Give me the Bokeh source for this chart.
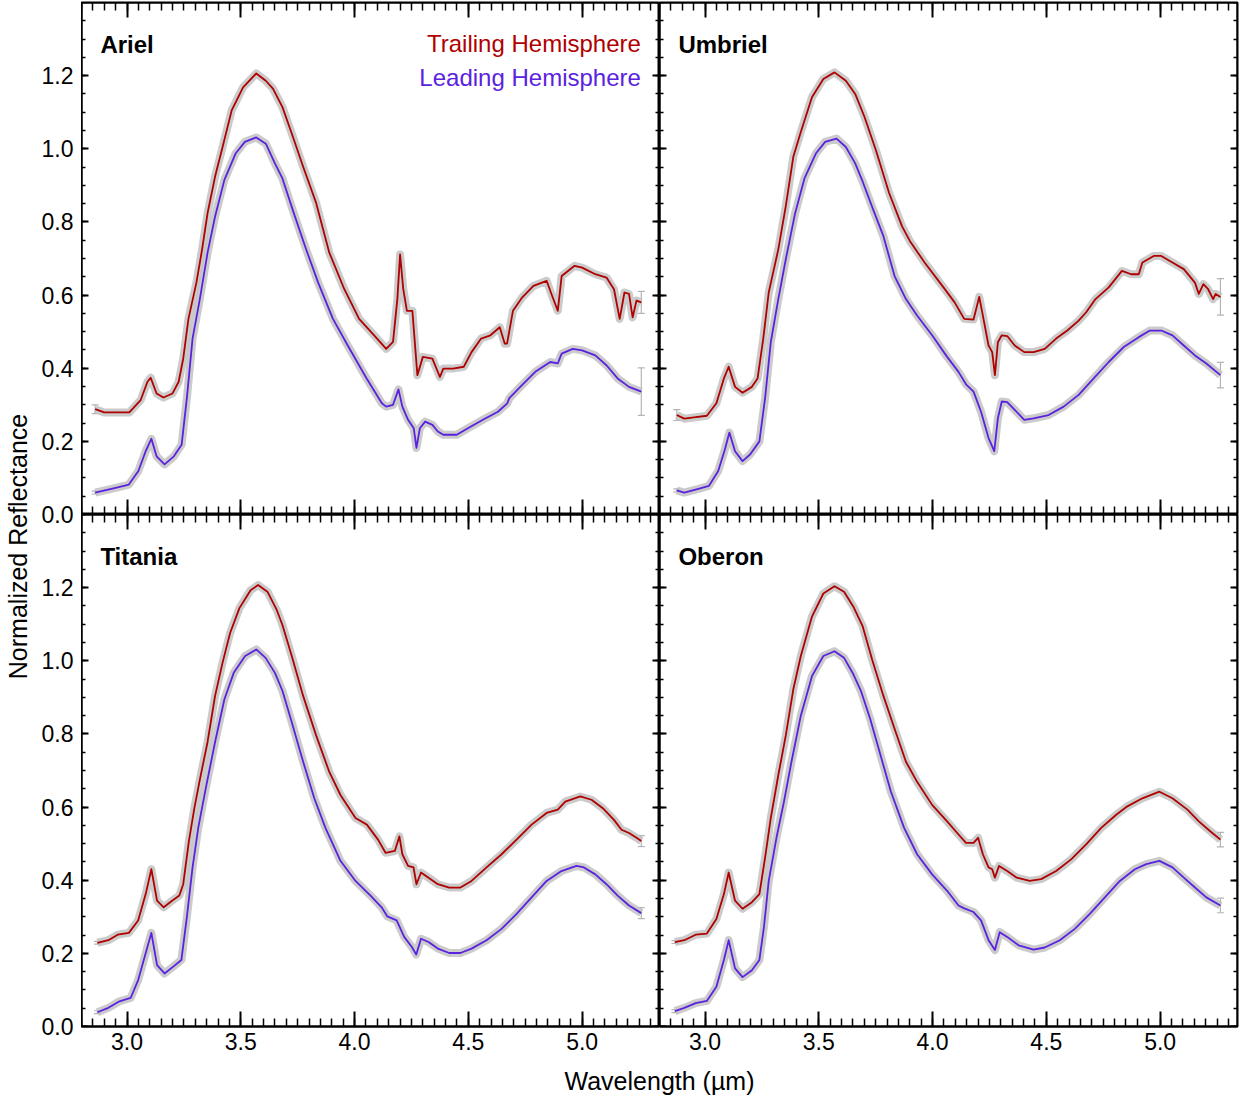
from bokeh.plotting import figure
from bokeh.layouts import row, column
from bokeh.models import (Range1d, LinearAxis, FixedTicker, CustomJSTickFormatter,
                          PrintfTickFormatter, Label, Whisker, ColumnDataSource, TeeHead)
from bokeh.embed import file_html
from bokeh.resources import INLINE

# ---------------- data ----------------
moons = ["Ariel", "Umbriel", "Titania", "Oberon"]
series_names = ["Trailing Hemisphere", "Leading Hemisphere"]
x_ticks = [3.0, 3.5, 4.0, 4.5, 5.0]
y_ticks = [0.0, 0.2, 0.4, 0.6, 0.8, 1.0, 1.2]

ariel_trail_wl = [2.86, 2.90, 2.95, 3.01, 3.06, 3.09, 3.104, 3.13, 3.16, 3.20, 3.227, 3.247, 3.27, 3.305, 3.33,
                  3.354, 3.387, 3.42, 3.46, 3.51, 3.568, 3.61, 3.642, 3.683, 3.724, 3.774, 3.831, 3.889, 3.955, 4.02,
                  4.086, 4.139, 4.169, 4.188, 4.20, 4.214, 4.23, 4.254, 4.267, 4.276, 4.30, 4.342, 4.375, 4.39, 4.432,
                  4.48, 4.514, 4.556, 4.597, 4.638, 4.66, 4.67, 4.696, 4.737, 4.786, 4.844, 4.868, 4.893, 4.91, 4.967,
                  5.0, 5.058, 5.107, 5.14, 5.165, 5.186, 5.206, 5.222, 5.239, 5.26]
ariel_trail_r = [0.288, 0.279, 0.279, 0.279, 0.313, 0.363, 0.374, 0.331, 0.320, 0.331, 0.363, 0.426, 0.535, 0.634, 0.725,
                 0.824, 0.924, 1.005, 1.105, 1.168, 1.206, 1.186, 1.164, 1.114, 1.042, 0.951, 0.852, 0.716, 0.616, 0.535,
                 0.490, 0.453, 0.472, 0.589, 0.711, 0.616, 0.557, 0.557, 0.453, 0.381, 0.431, 0.426, 0.376, 0.399, 0.399,
                 0.404, 0.444, 0.481, 0.490, 0.512, 0.467, 0.467, 0.557, 0.594, 0.625, 0.639, 0.598, 0.557, 0.652, 0.680,
                 0.675, 0.657, 0.648, 0.616, 0.535, 0.607, 0.603, 0.539, 0.585, 0.580]
ariel_lead_wl = [2.86, 2.95, 3.008, 3.05, 3.082, 3.107, 3.13, 3.165, 3.206, 3.24, 3.263, 3.288, 3.32, 3.354, 3.387,
                 3.428, 3.477, 3.518, 3.568, 3.61, 3.65, 3.683, 3.733, 3.782, 3.84, 3.905, 3.97, 4.053, 4.12, 4.139,
                 4.169, 4.193, 4.21, 4.235, 4.26, 4.272, 4.287, 4.31, 4.342, 4.366, 4.39, 4.449, 4.498, 4.564, 4.63,
                 4.671, 4.68, 4.728, 4.794, 4.86, 4.893, 4.91, 4.959, 5.0, 5.058, 5.107, 5.156, 5.206, 5.26]
ariel_lead_r = [0.060, 0.073, 0.082, 0.119, 0.173, 0.207, 0.159, 0.137, 0.159, 0.191, 0.318, 0.481, 0.589, 0.716, 0.815,
                0.915, 0.987, 1.019, 1.031, 1.014, 0.960, 0.919, 0.824, 0.734, 0.634, 0.535, 0.462, 0.372, 0.304, 0.295,
                0.300, 0.342, 0.295, 0.259, 0.236, 0.182, 0.236, 0.254, 0.245, 0.227, 0.218, 0.218, 0.236, 0.259, 0.281,
                0.304, 0.318, 0.349, 0.390, 0.417, 0.413, 0.440, 0.453, 0.449, 0.435, 0.408, 0.372, 0.349, 0.336]

umbriel_trail_wl = [2.876, 2.909, 2.96, 3.008, 3.05, 3.083, 3.104, 3.132, 3.165, 3.206, 3.231, 3.256, 3.28, 3.322, 3.355,
                    3.388, 3.421, 3.47, 3.52, 3.569, 3.619, 3.66, 3.701, 3.751, 3.809, 3.866, 3.9, 3.965, 4.048, 4.097,
                    4.139, 4.18, 4.205, 4.221, 4.246, 4.262, 4.274, 4.287, 4.304, 4.328, 4.361, 4.403, 4.444, 4.493, 4.543,
                    4.592, 4.642, 4.675, 4.716, 4.774, 4.832, 4.873, 4.906, 4.922, 4.972, 5.005, 5.054, 5.104, 5.153, 5.17,
                    5.19, 5.211, 5.233, 5.244, 5.265]
umbriel_trail_r = [0.272, 0.262, 0.266, 0.270, 0.304, 0.372, 0.404, 0.349, 0.333, 0.349, 0.372, 0.481, 0.607, 0.725, 0.843,
                   0.978, 1.046, 1.141, 1.191, 1.209, 1.186, 1.150, 1.087, 0.996, 0.879, 0.788, 0.748, 0.689, 0.621, 0.580,
                   0.535, 0.533, 0.595, 0.544, 0.462, 0.444, 0.381, 0.471, 0.490, 0.488, 0.462, 0.444, 0.444, 0.453, 0.481,
                   0.503, 0.530, 0.553, 0.589, 0.621, 0.666, 0.657, 0.657, 0.689, 0.707, 0.707, 0.689, 0.671, 0.634, 0.603,
                   0.630, 0.616, 0.589, 0.603, 0.595]
umbriel_lead_wl = [2.876, 2.909, 2.975, 3.017, 3.058, 3.087, 3.107, 3.132, 3.165, 3.198, 3.239, 3.264, 3.289, 3.322, 3.355,
                   3.396, 3.437, 3.487, 3.528, 3.578, 3.619, 3.66, 3.693, 3.734, 3.784, 3.833, 3.883, 3.932, 3.998, 4.064,
                   4.114, 4.147, 4.18, 4.213, 4.246, 4.271, 4.287, 4.304, 4.328, 4.361, 4.403, 4.444, 4.51, 4.576, 4.642,
                   4.708, 4.774, 4.84, 4.906, 4.955, 5.005, 5.054, 5.104, 5.153, 5.203, 5.265]
umbriel_lead_r = [0.066, 0.060, 0.071, 0.078, 0.119, 0.177, 0.224, 0.173, 0.146, 0.164, 0.200, 0.318, 0.471, 0.589, 0.698,
                  0.824, 0.919, 0.987, 1.019, 1.028, 1.005, 0.960, 0.910, 0.842, 0.761, 0.652, 0.589, 0.544, 0.490, 0.431,
                  0.390, 0.356, 0.336, 0.281, 0.209, 0.173, 0.263, 0.309, 0.307, 0.286, 0.259, 0.263, 0.272, 0.295, 0.327,
                  0.372, 0.417, 0.458, 0.485, 0.503, 0.503, 0.490, 0.462, 0.435, 0.413, 0.381]

titania_trail_wl = [2.87, 2.918, 2.959, 3.008, 3.049, 3.082, 3.107, 3.132, 3.161, 3.198, 3.23, 3.247, 3.272, 3.296, 3.321,
                    3.354, 3.387, 3.42, 3.453, 3.494, 3.543, 3.576, 3.617, 3.658, 3.683, 3.724, 3.774, 3.831, 3.889, 3.938,
                    4.004, 4.054, 4.103, 4.136, 4.177, 4.197, 4.21, 4.235, 4.259, 4.272, 4.292, 4.325, 4.366, 4.416, 4.465,
                    4.514, 4.58, 4.646, 4.712, 4.778, 4.844, 4.893, 4.926, 4.992, 5.041, 5.091, 5.14, 5.173, 5.206, 5.239,
                    5.26]
titania_trail_r = [0.229, 0.236, 0.251, 0.256, 0.290, 0.362, 0.430, 0.344, 0.326, 0.344, 0.358, 0.389, 0.507, 0.597, 0.678,
                   0.778, 0.904, 0.995, 1.076, 1.144, 1.193, 1.207, 1.189, 1.139, 1.098, 1.013, 0.904, 0.796, 0.696, 0.633,
                   0.570, 0.552, 0.511, 0.475, 0.480, 0.520, 0.471, 0.439, 0.435, 0.389, 0.421, 0.407, 0.389, 0.380, 0.380,
                   0.398, 0.435, 0.471, 0.511, 0.552, 0.584, 0.593, 0.615, 0.629, 0.620, 0.597, 0.565, 0.538, 0.529, 0.516,
                   0.507]
titania_lead_wl = [2.87, 2.918, 2.967, 3.016, 3.049, 3.082, 3.107, 3.132, 3.165, 3.206, 3.239, 3.263, 3.288, 3.313, 3.346,
                   3.387, 3.428, 3.469, 3.519, 3.568, 3.609, 3.65, 3.683, 3.724, 3.774, 3.823, 3.872, 3.938, 4.004, 4.07,
                   4.119, 4.144, 4.185, 4.218, 4.251, 4.271, 4.292, 4.325, 4.366, 4.416, 4.465, 4.514, 4.58, 4.646, 4.712,
                   4.778, 4.844, 4.909, 4.975, 5.008, 5.058, 5.107, 5.156, 5.206, 5.26]
titania_lead_r = [0.039, 0.051, 0.069, 0.078, 0.127, 0.200, 0.256, 0.168, 0.145, 0.165, 0.182, 0.299, 0.435, 0.543, 0.651,
                  0.778, 0.895, 0.967, 1.013, 1.031, 1.008, 0.967, 0.918, 0.832, 0.724, 0.624, 0.543, 0.453, 0.398, 0.358,
                  0.326, 0.301, 0.290, 0.245, 0.218, 0.197, 0.240, 0.231, 0.213, 0.201, 0.201, 0.213, 0.236, 0.267, 0.308,
                  0.353, 0.398, 0.425, 0.439, 0.435, 0.416, 0.389, 0.358, 0.331, 0.310]

oberon_trail_wl = [2.868, 2.909, 2.959, 3.008, 3.05, 3.083, 3.104, 3.132, 3.165, 3.206, 3.239, 3.264, 3.289, 3.322, 3.355,
                   3.388, 3.421, 3.47, 3.52, 3.569, 3.611, 3.652, 3.693, 3.734, 3.784, 3.833, 3.883, 3.932, 3.998, 4.064,
                   4.114, 4.147, 4.18, 4.2, 4.221, 4.246, 4.262, 4.274, 4.292, 4.328, 4.37, 4.427, 4.477, 4.543, 4.609,
                   4.675, 4.741, 4.807, 4.856, 4.922, 4.997, 5.054, 5.12, 5.17, 5.22, 5.265]
oberon_trail_r = [0.231, 0.236, 0.251, 0.254, 0.294, 0.362, 0.421, 0.344, 0.322, 0.340, 0.362, 0.462, 0.570, 0.687, 0.796,
                  0.922, 1.013, 1.121, 1.184, 1.204, 1.189, 1.148, 1.094, 1.004, 0.904, 0.814, 0.724, 0.669, 0.606, 0.561,
                  0.525, 0.502, 0.502, 0.516, 0.471, 0.435, 0.430, 0.407, 0.439, 0.425, 0.407, 0.398, 0.403, 0.425, 0.457,
                  0.498, 0.543, 0.579, 0.602, 0.624, 0.642, 0.624, 0.593, 0.561, 0.534, 0.511]
oberon_lead_wl = [2.868, 2.909, 2.959, 3.008, 3.05, 3.083, 3.104, 3.132, 3.165, 3.206, 3.239, 3.259, 3.28, 3.314, 3.347,
                  3.38, 3.421, 3.47, 3.52, 3.569, 3.611, 3.652, 3.685, 3.726, 3.767, 3.817, 3.875, 3.932, 3.998, 4.064,
                  4.114, 4.139, 4.18, 4.213, 4.246, 4.274, 4.295, 4.328, 4.378, 4.444, 4.493, 4.559, 4.625, 4.691, 4.757,
                  4.823, 4.889, 4.939, 4.997, 5.054, 5.104, 5.153, 5.203, 5.265]
oberon_lead_r = [0.042, 0.051, 0.064, 0.070, 0.109, 0.182, 0.236, 0.159, 0.135, 0.154, 0.182, 0.272, 0.398, 0.516, 0.615,
                 0.724, 0.850, 0.958, 1.013, 1.026, 1.008, 0.963, 0.918, 0.841, 0.751, 0.642, 0.543, 0.471, 0.416, 0.371,
                 0.331, 0.323, 0.313, 0.290, 0.236, 0.209, 0.258, 0.245, 0.222, 0.210, 0.216, 0.236, 0.267, 0.308, 0.353,
                 0.398, 0.430, 0.444, 0.453, 0.435, 0.407, 0.380, 0.353, 0.331]

# error bars at the first and last point of each spectrum
ariel_trail_err = [0.012, 0.030]
ariel_lead_err = [0.004, 0.065]
umbriel_trail_err = [0.015, 0.050]
umbriel_lead_err = [0.004, 0.035]
titania_trail_err = [0.004, 0.015]
titania_lead_err = [0.004, 0.015]
oberon_trail_err = [0.004, 0.020]
oberon_lead_err = [0.004, 0.020]

# ---------------- styling ----------------
FONT = "Liberation Sans"
RED = "#B00000"
PURPLE = "#5A22E0"
HALO = "#C2C2C2"
ERRC = "#B4B4B4"

X0, X1 = 2.8, 5.34
Y0, Y1 = 0.0, 1.4
PW, PH = 578, 512

x_minor = [round(X0 + 0.05 * i, 2) for i in range(52)]
y_minor = [round(0.05 * i, 2) for i in range(29)]


def style_axis(ax, major_in, minor_in):
    ax.axis_line_color = "black"
    ax.axis_line_width = 2
    ax.major_tick_in = major_in
    ax.major_tick_out = 0
    ax.minor_tick_in = minor_in
    ax.minor_tick_out = 0
    ax.major_tick_line_color = "black"
    ax.major_tick_line_width = 2
    ax.minor_tick_line_color = "black"
    ax.minor_tick_line_width = 1.5


def panel(name, tw, tr, te, lw, lr, le, top, right, bottom, xlabels, legend):
    p = figure(frame_width=PW, frame_height=PH, x_range=Range1d(X0, X1), y_range=Range1d(Y0, Y1),
               x_axis_location=None, y_axis_location=None, title_location=None,
               toolbar_location=None, output_backend="svg",
               min_border_left=0, min_border_right=right, min_border_top=top, min_border_bottom=bottom,
               outline_line_color="black", outline_line_width=2,
               background_fill_color="white", border_fill_color="white")
    p.grid.visible = False
    for side in ("below", "above"):
        ax = LinearAxis(ticker=FixedTicker(ticks=x_ticks, minor_ticks=x_minor))
        style_axis(ax, 15, 8)
        if side == "below" and xlabels:
            ax.formatter = PrintfTickFormatter(format="%.1f")
            ax.major_label_text_font = FONT
            ax.major_label_text_font_size = "23px"
            ax.major_label_text_color = "black"
            ax.major_label_standoff = 6
        else:
            ax.fixed_location = Y0 if side == "below" else Y1
            ax.formatter = CustomJSTickFormatter(code="return ''")
        p.add_layout(ax, side)
    for side in ("left", "right"):
        ax = LinearAxis(ticker=FixedTicker(ticks=y_ticks, minor_ticks=y_minor),
                        fixed_location=X0 if side == "left" else X1)
        style_axis(ax, 7, 4)
        ax.formatter = CustomJSTickFormatter(code="return ''")
        p.add_layout(ax, side)

    curves = ((tw, tr, te, RED), (lw, lr, le, PURPLE))
    for wl, r, err, color in curves:
        p.line(wl, r, line_width=8, line_color=HALO, line_alpha=0.85, line_join="round")
        src = ColumnDataSource(dict(base=[wl[0], wl[-1]],
                                    lower=[r[0] - err[0], r[-1] - err[1]],
                                    upper=[r[0] + err[0], r[-1] + err[1]]))
        p.add_layout(Whisker(source=src, base="base", lower="lower", upper="upper",
                             line_color=ERRC, line_width=1.2,
                             upper_head=TeeHead(size=7, line_color=ERRC, line_width=1.2),
                             lower_head=TeeHead(size=7, line_color=ERRC, line_width=1.2)))
    for wl, r, err, color in curves:
        p.line(wl, r, line_width=1.8, line_color=color, line_join="round")

    p.add_layout(Label(x=2.883, y=1.285, text=name, text_font=FONT, text_font_size="24px",
                       text_font_style="bold", text_color="black", text_baseline="middle", text_align="left"))
    if legend:
        p.add_layout(Label(x=5.258, y=1.288, text=series_names[0], text_font=FONT, text_font_size="24px",
                           text_color=RED, text_baseline="middle", text_align="right"))
        p.add_layout(Label(x=5.258, y=1.196, text=series_names[1], text_font=FONT, text_font_size="24px",
                           text_color=PURPLE, text_baseline="middle", text_align="right"))
    return p


tl = panel(moons[0], ariel_trail_wl, ariel_trail_r, ariel_trail_err, ariel_lead_wl, ariel_lead_r, ariel_lead_err,
           top=2, right=0, bottom=0, xlabels=False, legend=True)
tr = panel(moons[1], umbriel_trail_wl, umbriel_trail_r, umbriel_trail_err, umbriel_lead_wl, umbriel_lead_r,
           umbriel_lead_err, top=2, right=2, bottom=0, xlabels=False, legend=False)
bl = panel(moons[2], titania_trail_wl, titania_trail_r, titania_trail_err, titania_lead_wl, titania_lead_r,
           titania_lead_err, top=0, right=0, bottom=34, xlabels=True, legend=False)
br = panel(moons[3], oberon_trail_wl, oberon_trail_r, oberon_trail_err, oberon_lead_wl, oberon_lead_r,
           oberon_lead_err, top=0, right=2, bottom=34, xlabels=True, legend=False)

# shared y tick labels for the two stacked rows (upper row sits one panel height above)
EXTRA = 64
stacked_ticks = list(y_ticks) + [Y1 + t for t in y_ticks]
ylab = figure(frame_width=1, frame_height=2 * PH + EXTRA, x_range=Range1d(0, 1),
              y_range=Range1d(-EXTRA * Y1 / PH, 2 * Y1), x_axis_location=None, y_axis_location="left",
              title_location=None, toolbar_location=None, output_backend="svg",
              min_border_left=75, min_border_right=0, min_border_top=2, min_border_bottom=0,
              outline_line_color=None, background_fill_color="white", border_fill_color="white")
ylab.grid.visible = False
yax = ylab.yaxis[0]
yax.ticker = FixedTicker(ticks=stacked_ticks, minor_ticks=[])
yax.formatter = CustomJSTickFormatter(args=dict(h=Y1), code="""
let v = tick >= h - 1e-9 ? tick - h : tick;
if (Math.abs(v) < 1e-9) v = 0;
return v.toFixed(1);
""")
yax.axis_line_color = None
yax.major_tick_line_color = None
yax.minor_tick_line_color = None
yax.major_tick_in = 0
yax.major_tick_out = 0
yax.minor_tick_in = 0
yax.minor_tick_out = 0
yax.major_label_standoff = 7
yax.major_label_text_font = FONT
yax.major_label_text_font_size = "23px"
yax.major_label_text_color = "black"
yax.axis_label = "Normalized Reflectance"
yax.axis_label_text_font = FONT
yax.axis_label_text_font_size = "25px"
yax.axis_label_text_font_style = "normal"
yax.axis_label_text_color = "black"
yax.axis_label_standoff = 7

xlab = figure(frame_width=2 * PW, frame_height=1, x_axis_location=None, y_axis_location=None,
              title="Wavelength (µm)", title_location="below", toolbar_location=None, output_backend="svg",
              min_border_left=0, min_border_right=0, min_border_top=0, min_border_bottom=0,
              outline_line_color=None, background_fill_color="white", border_fill_color="white")
xlab.grid.visible = False
xlab.title.align = "center"
xlab.title.text_font = FONT
xlab.title.text_font_size = "25px"
xlab.title.text_font_style = "normal"
xlab.title.text_color = "black"
xlab.title.standoff = 6

layout = row(ylab, column(row(tl, tr), row(bl, br), xlab))

open("out.html", "w").write(file_html(layout, INLINE))
